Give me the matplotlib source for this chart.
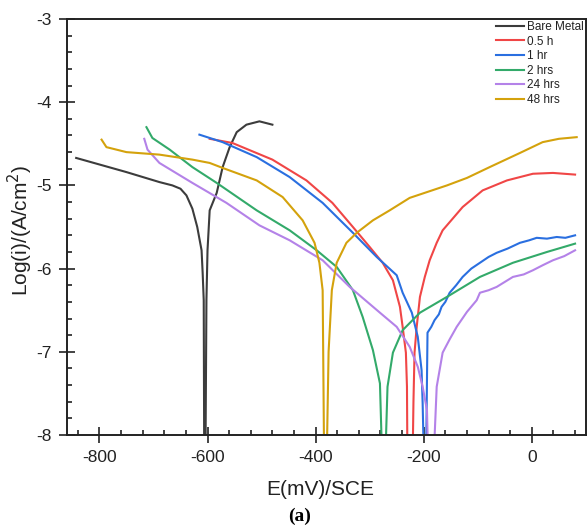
import matplotlib
matplotlib.use("Agg")
import matplotlib.pyplot as plt
from matplotlib.ticker import MultipleLocator

plt.rcParams['font.family'] = ['Liberation Sans', 'DejaVu Sans']
plt.rcParams['axes.unicode_minus'] = False

# ---------------- data (E in mV vs SCE, log current density) ----------------
labels = ["Bare Metal", "0.5 h", "1 hr", "2 hrs", "24 hrs", "48 hrs"]
colors = ["#3c3c3c", "#f04646", "#2a6fe0", "#33aa6a", "#b482e8", "#d4a20c"]

bare_E = [-843, -750, -689, -665, -650, -639, -628, -619, -611, -609, -607, -606,
          -604, -602, -600, -596, -583, -572, -559, -546, -528, -504, -480]
bare_I = [-4.67, -4.84, -4.96, -5.00, -5.04, -5.12, -5.28, -5.50, -5.78, -6.05, -6.38, -8.5,
          -8.5, -6.38, -5.78, -5.30, -5.09, -4.78, -4.54, -4.36, -4.27, -4.23, -4.27]

h05_E = [-596, -554, -480, -417, -369, -331, -300, -276, -257, -244, -239, -233, -231, -230,
         -221, -219, -217, -213, -207, -198, -189, -176, -165, -128, -91, -46, 2, 39, 80]
h05_I = [-4.44, -4.49, -4.69, -4.94, -5.21, -5.50, -5.74, -5.93, -6.14, -6.46, -6.70, -7.01, -7.42, -8.5,
         -8.5, -7.60, -7.01, -6.70, -6.34, -6.10, -5.90, -5.69, -5.54, -5.26, -5.06, -4.94, -4.86, -4.85, -4.87]

h1_E = [-615, -572, -509, -448, -387, -331, -287, -250, -239, -222, -211, -204, -202, -199,
        -196, -194, -193, -186, -180, -172, -167, -160, -152, -140, -128, -112, -96, -80, -65,
        -45, -22, -5, 9, 28, 46, 62, 80]
h1_I = [-4.39, -4.48, -4.66, -4.90, -5.21, -5.57, -5.86, -6.08, -6.29, -6.53, -6.82, -7.22, -7.62, -8.5,
        -8.5, -7.34, -6.77, -6.70, -6.62, -6.55, -6.46, -6.40, -6.29, -6.20, -6.10, -6.00, -5.93, -5.86, -5.81,
        -5.76, -5.69, -5.66, -5.63, -5.64, -5.62, -5.63, -5.60]

h2_E = [-713, -702, -670, -628, -583, -509, -448, -398, -361, -331, -313, -294, -281, -276,
        -272, -267, -257, -239, -207, -157, -96, -35, 28, 80]
h2_I = [-4.30, -4.43, -4.57, -4.78, -4.97, -5.30, -5.54, -5.78, -5.98, -6.26, -6.58, -6.98, -7.38, -8.5,
        -8.5, -7.42, -7.01, -6.74, -6.53, -6.34, -6.10, -5.93, -5.80, -5.70]

h24_E = [-717, -711, -689, -628, -565, -504, -448, -387, -337, -281, -250, -226, -211, -202, -194, -191,
         -183, -176, -165, -152, -139, -120, -102, -96, -80, -65, -50, -35, -15, 2, 20, 39, 60, 80]
h24_I = [-4.44, -4.57, -4.73, -4.97, -5.21, -5.48, -5.66, -5.90, -6.22, -6.53, -6.70, -6.94, -7.18, -7.42, -7.70, -8.5,
         -8.5, -7.42, -7.01, -6.85, -6.70, -6.52, -6.38, -6.29, -6.26, -6.22, -6.16, -6.10, -6.07, -6.02, -5.96, -5.90, -5.85, -5.78]

h48_E = [-796, -787, -750, -689, -628, -596, -572, -509, -461, -424, -402, -393, -387, -386, -384,
         -380, -376, -370, -361, -343, -324, -294, -263, -226, -157, -120, -78, -22, 20, 50, 83]
h48_I = [-4.45, -4.54, -4.60, -4.63, -4.69, -4.73, -4.79, -4.94, -5.14, -5.42, -5.69, -5.93, -6.26, -7.0, -8.5,
         -8.5, -7.0, -6.26, -5.93, -5.69, -5.57, -5.42, -5.30, -5.15, -5.00, -4.91, -4.78, -4.61, -4.48, -4.44, -4.42]

series_E = [bare_E, h05_E, h1_E, h2_E, h24_E, h48_E]
series_I = [bare_I, h05_I, h1_I, h2_I, h24_I, h48_I]

x_ticks = [-800, -600, -400, -200, 0]
y_ticks = [-8, -7, -6, -5, -4, -3]

# ---------------- figure ----------------
fig = plt.figure(figsize=(5.87, 5.31), dpi=100)
ax = fig.add_axes([0.1141, 0.1808, 0.884, 0.7834])

for E, I, c, lab in zip(series_E, series_I, colors, labels):
    ax.plot(E, I, color=c, lw=1.5, label=lab, solid_joinstyle='round')

ax.set_xlim(-860, 100)
ax.set_ylim(-8, -3)
ax.set_xticks(x_ticks)
ax.set_yticks(y_ticks)
ax.xaxis.set_minor_locator(MultipleLocator(40))
ax.yaxis.set_minor_locator(MultipleLocator(0.2))
ax.tick_params(which='major', direction='inout', length=12, width=1.2,
               labelsize=12.5, pad=5, colors='#222222')
ax.tick_params(which='minor', direction='in', length=3.5, width=1.2, colors='#222222')
ax.tick_params(top=False, right=False, which='both')
for s in ax.spines.values():
    s.set_linewidth(1.4)
    s.set_color('#222222')

fig.text(0.545, 0.078, "E(mV)/SCE", ha='center', va='center', fontsize=15, color='#222222')
fig.text(0.035, 0.567, "Log(i)/(A/cm$^2$)", ha='center', va='center', rotation=90,
         fontsize=15, color='#222222')
fig.text(0.51, 0.027, "(a)", ha='center', va='center', fontsize=14, fontweight='bold',
         family='Liberation Serif')

leg = ax.legend(loc='upper right', bbox_to_anchor=(584/587, 1 - 21/531),
                bbox_transform=fig.transFigure, frameon=False, fontsize=8.5,
                handlelength=2.4, handletextpad=0.25, labelspacing=0.22,
                borderpad=0.0, borderaxespad=0.0)
for t in leg.get_texts():
    t.set_color('#222222')

fig.savefig("out.png", dpi=100)
